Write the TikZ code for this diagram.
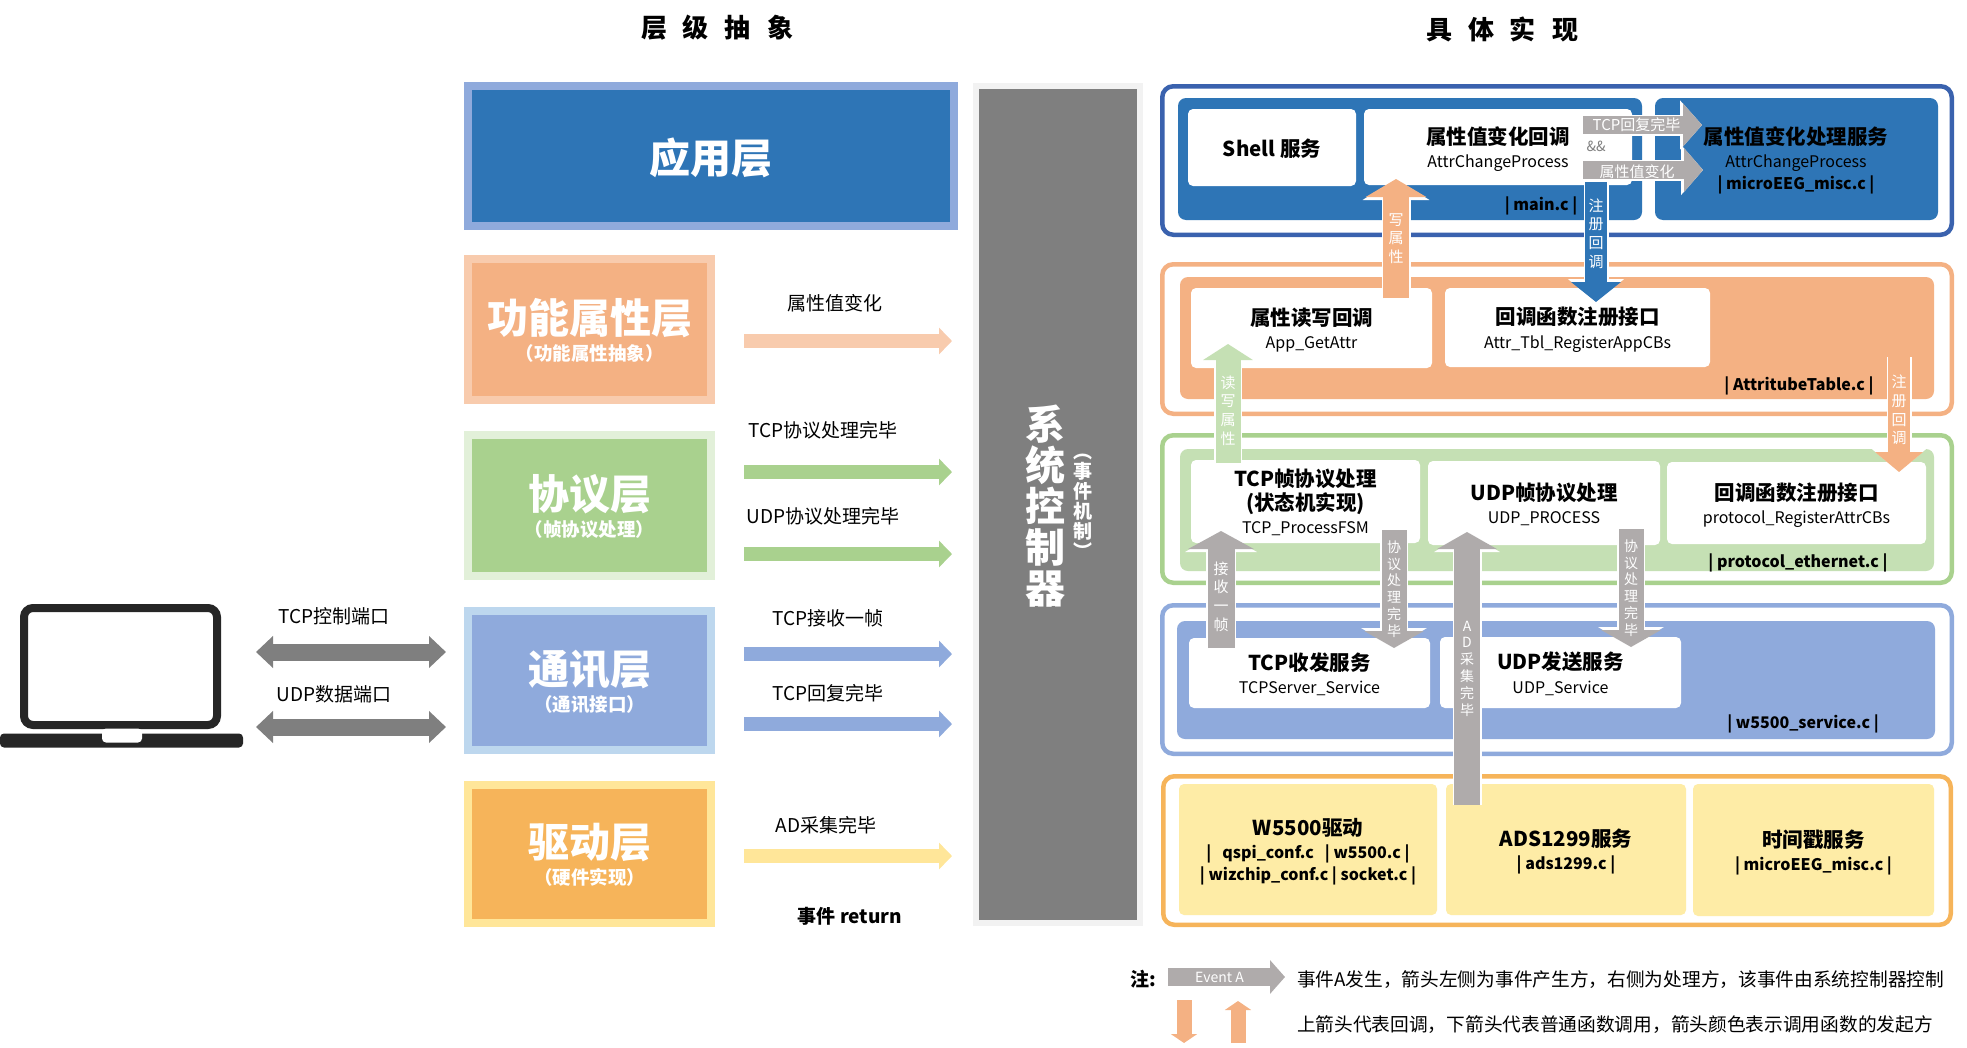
\documentclass[tikz,border=0pt]{standalone}
\usepackage{fontspec}
\setmainfont{Noto Sans CJK SC}
\usetikzlibrary{arrows.meta}
\definecolor{appblue}{HTML}{2E75B6}
\definecolor{lightblue}{HTML}{8FAADC}
\definecolor{paleblue}{HTML}{BDD7EE}
\definecolor{navyline}{HTML}{3A62AE}
\definecolor{peach}{HTML}{F4B183}
\definecolor{palepeach}{HTML}{F8CBAD}
\definecolor{leaf}{HTML}{A9D18E}
\definecolor{paleleaf}{HTML}{C5E0B4}
\definecolor{mistleaf}{HTML}{E2F0D9}
\definecolor{amber}{HTML}{F6B45A}
\definecolor{cream}{HTML}{FFE699}
\definecolor{butter}{HTML}{FEECA6}
\definecolor{ctrlgray}{HTML}{7F7F7F}
\definecolor{ctrlrim}{HTML}{F2F2F2}
\definecolor{stone}{HTML}{AFABAB}
\definecolor{laptopink}{HTML}{262626}
\lineskiplimit=-100pt
\newcommand{\hgfont}{\fontsize{41}{44}\selectfont\bfseries}
\newcommand{\ttl}{\fontsize{20.5}{23}\selectfont\bfseries}
\newcommand{\gapp}{\hspace{16pt}}
\begin{document}
\begin{tikzpicture}[x=1pt,y=-1pt,inner sep=0pt,outer sep=0pt,
layer/.style={rectangle,line width=8pt,text=white,align=center,text depth=0pt,font=\fontsize{18.5}{27}\selectfont\bfseries},
dims/.style 2 args={minimum width=#1,minimum height=#2},
panel/.style={rounded corners=11pt,line width=4.5pt,fill=white},
plate/.style={rounded corners=8pt},
card/.style={rounded corners=5pt,fill=white,align=center,text depth=0pt,font=\fontsize{16}{23.5}\selectfont},
tag/.style={text depth=0pt,font=\fontsize{16}{20}\selectfont\bfseries},
note/.style={font=\fontsize{19}{23}\selectfont},
vtxt/.style={text=white,align=center},
fatarrow/.style n args={4}{draw=#1,line width=#2,-{Triangle[length=#3,width=#4]},preaction={draw=white,line width=#2+3pt,-{Triangle[length=#3+3pt,width=#4+6pt]}}},
duplex/.style={draw=ctrlgray,line width=17pt,{Triangle[length=17pt,width=31pt]}-{Triangle[length=17pt,width=31pt]}}]
\useasboundingbox (0,0) rectangle (1967,1047);
\node[font=\fontsize{26}{30}\selectfont\bfseries] (headL) at (717,28) {层\gapp 级\gapp 抽\gapp 象};
\node[font=\fontsize{26}{30}\selectfont\bfseries] (headR) at (1502,29) {具\gapp 体\gapp 实\gapp 现};
% laptop
\begin{scope}
\node[draw=laptopink,line width=8pt,rounded corners=9pt,dims={193}{117}] (screen) at (120.5,666.5) {};
\node[fill=laptopink,rounded corners=4pt,dims={243}{14}] (base) at (121.5,740.5) {};
\node[fill=white,rounded corners=4pt,dims={40}{14}] (notch) at (122,735.5) {};
\coordinate (tcpL) at (256,652);
\coordinate (tcpR) at (446,652);
\coordinate (udpL) at (256,727);
\coordinate (udpR) at (446,727);
\draw[duplex] (tcpL) -- (tcpR);
\draw[duplex] (udpL) -- (udpR);
\node[note] (tcpPort) at (334,616) {TCP控制端口};
\node[note] (udpPort) at (334,694) {UDP数据端口};
\end{scope}
% layers
\begin{scope}
\node[layer,draw=lightblue,fill=appblue,dims={486}{140},font=\hgfont] (app) at (711,156) {应用层};
\node[layer,draw=palepeach,fill=peach,dims={243}{141}] (func) at (589.5,329.5) {{\hgfont 功能属性层}\\（功能属性抽象）};
\node[layer,draw=mistleaf,fill=leaf,dims={243}{141}] (proto) at (589.5,505) {{\hgfont 协议层}\\（帧协议处理）};
\node[layer,draw=paleblue,fill=lightblue,dims={243}{139}] (comm) at (589.5,680.5) {{\hgfont 通讯层}\\（通讯接口）};
\node[layer,draw=cream,fill=amber,dims={243}{138}] (drv) at (589.5,854) {{\hgfont 驱动层}\\（硬件实现）};
\node[draw=ctrlrim,fill=ctrlgray,line width=6pt,dims={164}{837}] (ctrl) at (1058,504.5) {};
\node[text=white,align=center,font=\fontsize{40}{41}\selectfont\bfseries] (ctrlName) at (1045,506) {系\\统\\控\\制\\器};
\node[text=white,align=center,font=\fontsize{19}{20}\selectfont\bfseries] (ctrlSub) at (1083,506) {︵\\事\\件\\机\\制\\︶};
\end{scope}
% events
\begin{scope}
\coordinate (e1) at (744,341);
\coordinate (e1x) at (952,341);
\coordinate (e2) at (744,472);
\coordinate (e2x) at (952,472);
\coordinate (e3) at (744,554);
\coordinate (e3x) at (952,554);
\coordinate (e4) at (744,654);
\coordinate (e4x) at (952,654);
\coordinate (e5) at (744,724);
\coordinate (e5x) at (952,724);
\coordinate (e6) at (744,856);
\coordinate (e6x) at (952,856);
\draw[fatarrow={palepeach}{14pt}{13pt}{26pt}] (e1) -- (e1x);
\draw[fatarrow={leaf}{14pt}{13pt}{26pt}] (e2) -- (e2x);
\draw[fatarrow={leaf}{14pt}{13pt}{26pt}] (e3) -- (e3x);
\draw[fatarrow={lightblue}{14pt}{13pt}{26pt}] (e4) -- (e4x);
\draw[fatarrow={lightblue}{14pt}{13pt}{26pt}] (e5) -- (e5x);
\draw[fatarrow={cream}{14pt}{13pt}{26pt}] (e6) -- (e6x);
\node[note] (l1) at (835,303) {属性值变化};
\node[note] (l2) at (823,430) {TCP协议处理完毕};
\node[note] (l3) at (823,516) {UDP协议处理完毕};
\node[note] (l4) at (828,618) {TCP接收一帧};
\node[note] (l5) at (828,693) {TCP回复完毕};
\node[note] (l6) at (826,825) {AD采集完毕};
\node[note,font=\fontsize{19}{23}\selectfont\bfseries] (l7) at (850,916) {事件 return};
\end{scope}
% panels
\begin{scope}
\node[panel,draw=navyline,dims={789.5}{148.5}] (p1) at (1557,160.5) {};
\node[panel,draw=peach,dims={789.5}{149.5}] (p2) at (1557,339) {};
\node[panel,draw=leaf,dims={789.5}{147.5}] (p3) at (1557,509) {};
\node[panel,draw=lightblue,dims={789.5}{148.5}] (p4) at (1557,679.5) {};
\node[panel,draw=amber,dims={787.5}{148.5}] (p5) at (1557,850.5) {};
\node[plate,fill=appblue,dims={464}{122}] (p1a) at (1410,159) {};
\node[plate,fill=appblue,dims={283}{122}] (p1b) at (1796.5,159) {};
\node[plate,fill=peach,dims={754}{122}] (p2a) at (1557,338) {};
\node[plate,fill=paleleaf,dims={754}{122}] (p3a) at (1557,510) {};
\node[plate,fill=lightblue,dims={758}{118}] (p4a) at (1556,680) {};
\end{scope}
% cards
\begin{scope}
\node[card,dims={168}{77}] (shell) at (1272,147.5) {\ttl Shell 服务};
\node[card,dims={268}{76}] (attrCb) at (1498,147) {{\ttl 属性值变化回调}\\AttrChangeProcess};
\node[align=center,text depth=0pt,font=\fontsize{16}{22.5}\selectfont] (attrSrv) at (1796,158.5) {{\ttl 属性值变化处理服务}\\AttrChangeProcess\\\textbf{| microEEG\_misc.c |}};
\node[tag] (fMain) at (1541,204) {| main.c |};
\node[card,dims={241}{80}] (attrRw) at (1311.5,328) {{\ttl 属性读写回调}\\App\_GetAttr};
\node[card,dims={265}{79}] (attrReg) at (1577.5,327.5) {{\ttl 回调函数注册接口}\\Attr\_Tbl\_RegisterAppCBs};
\node[tag] (fAttr) at (1799,384) {| AttritubeTable.c |};
\node[card,dims={229}{83}] (tcpFsm) at (1305.5,501.5) {{\ttl TCP帧协议处理}\\{\ttl (状态机实现)}\\TCP\_ProcessFSM};
\node[card,dims={232}{84}] (udpProc) at (1544,503) {{\ttl UDP帧协议处理}\\UDP\_PROCESS};
\node[card,dims={259}{82}] (protoReg) at (1796.5,503) {{\ttl 回调函数注册接口}\\protocol\_RegisterAttrCBs};
\node[tag] (fProto) at (1798,561) {| protocol\_ethernet.c |};
\node[card,dims={241}{70}] (tcpSrv) at (1309.5,673) {{\ttl TCP收发服务}\\TCPServer\_Service};
\node[card,dims={241}{71}] (udpSrv) at (1560.5,672.5) {{\ttl UDP发送服务}\\UDP\_Service};
\node[tag] (fW) at (1803,722) {| w5500\_service.c |};
\node[card,fill=butter,dims={258}{131},font=\fontsize{16}{22.5}\selectfont\bfseries] (w5500) at (1308,849.5) {{\ttl W5500驱动}\\|~~~qspi\_conf.c~~~| w5500.c |\\| wizchip\_conf.c | socket.c |};
\node[card,fill=butter,dims={240}{131},font=\fontsize{16}{23}\selectfont\bfseries] (ads) at (1566,849.5) {{\ttl ADS1299服务}\\| ads1299.c |};
\node[card,fill=butter,dims={241}{132},font=\fontsize{16}{23}\selectfont\bfseries] (clock) at (1813.5,850) {{\ttl 时间戳服务}\\| microEEG\_misc.c |};
\end{scope}
% calls
\begin{scope}[every node/.style={font=\fontsize{15}{18.8}\selectfont}]
\coordinate (wrA) at (1396,298);
\coordinate (wrB) at (1396,179);
\coordinate (cbA) at (1596,182);
\coordinate (cbB) at (1596,302);
\coordinate (rwA) at (1228,463);
\coordinate (rwB) at (1228,344);
\coordinate (regA) at (1899,357);
\coordinate (regB) at (1899,472);
\coordinate (rxA) at (1221,648);
\coordinate (rxB) at (1221,531);
\coordinate (doneA) at (1394,530);
\coordinate (doneB) at (1394,648);
\coordinate (dtwoA) at (1631,529);
\coordinate (dtwoB) at (1631,647);
\coordinate (adA) at (1467,805);
\coordinate (adB) at (1467,532);
\coordinate (replyA) at (1583,125);
\coordinate (replyB) at (1702,125);
\coordinate (chgA) at (1583,170);
\coordinate (chgB) at (1703,170);
\draw[fatarrow={appblue}{22pt}{20pt}{49pt}] (cbA) -- node[vtxt,pos=.43]{注\\册\\回\\调} (cbB);
\draw[fatarrow={stone}{18pt}{19pt}{42pt}] (replyA) -- node[text=white,pos=.45]{TCP回复完毕} (replyB);
\draw[fatarrow={stone}{18pt}{19pt}{43pt}] (chgA) -- node[text=white,pos=.45,yshift=-2pt]{属性值变化} (chgB);
\node[font=\fontsize{14}{16}\selectfont,text=ctrlgray] (andand) at (1596,146) {\&\&};
\draw[fatarrow={peach}{26pt}{18pt}{60pt}] (wrA) -- node[vtxt]{写\\属\\性} (wrB);
\draw[fatarrow={paleleaf}{25pt}{16pt}{49pt}] (rwA) -- node[vtxt,pos=.44]{读\\写\\属\\性} (rwB);
\draw[fatarrow={peach}{22pt}{20pt}{47pt}] (regA) -- node[vtxt,pos=.46]{注\\册\\回\\调} (regB);
\draw[fatarrow={stone}{27pt}{18pt}{65pt}] (rxA) -- node[vtxt,pos=.44]{接\\收\\一\\帧} (rxB);
\draw[fatarrow={stone}{25pt}{17pt}{59pt}] (doneA) -- node[vtxt,font=\fontsize{14}{16.8}\selectfont]{协\\议\\处\\理\\完\\毕} (doneB);
\draw[fatarrow={stone}{25pt}{17pt}{59pt}] (dtwoA) -- node[vtxt,font=\fontsize{14}{16.8}\selectfont]{协\\议\\处\\理\\完\\毕} (dtwoB);
\draw[fatarrow={stone}{26pt}{17pt}{59pt}] (adA) -- node[vtxt,font=\fontsize{14}{16.8}\selectfont]{A\\D\\采\\集\\完\\毕} (adB);
\end{scope}
% legend
\begin{scope}
\node[font=\fontsize{19}{23}\selectfont\bfseries] (noteTag) at (1143,979) {注:};
\coordinate (evA) at (1168,977);
\coordinate (evB) at (1285,977);
\coordinate (dnA) at (1184,1000);
\coordinate (dnB) at (1184,1043);
\coordinate (upA) at (1238,1043);
\coordinate (upB) at (1238,1001);
\draw[fatarrow={stone}{18pt}{15pt}{33pt}] (evA) -- node[text=white,pos=.44,font=\fontsize{14}{16}\selectfont]{Event A} (evB);
\draw[fatarrow={peach}{15pt}{9pt}{26pt}] (dnA) -- (dnB);
\draw[fatarrow={peach}{15pt}{9pt}{26pt}] (upA) -- (upB);
\node[anchor=west,font=\fontsize{18.7}{23}\selectfont] (noteA) at (1297,980) {事件A发生，箭头左侧为事件产生方，右侧为处理方，该事件由系统控制器控制};
\node[anchor=west,font=\fontsize{18.7}{23}\selectfont] (noteB) at (1297,1025) {上箭头代表回调，下箭头代表普通函数调用，箭头颜色表示调用函数的发起方};
\end{scope}
\end{tikzpicture}
\end{document}
